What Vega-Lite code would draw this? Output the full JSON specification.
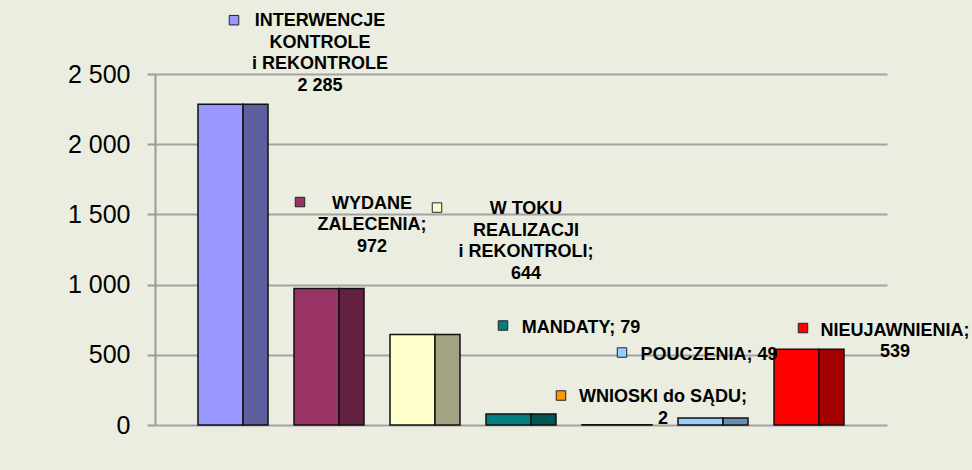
{
  "$schema": "https://vega.github.io/schema/vega-lite/v6.json",
  "width": 732,
  "height": 351,
  "autosize": "none",
  "padding": {"left": 155, "right": 85, "top": 74, "bottom": 45},
  "background": "#eaeddf",
  "config": {"view": {"stroke": null}},
  "data": {"values": [
    {"category": "INTERWENCJE", "value": 2285, "label": "INTERWENCJE\nKONTROLE\ni REKONTROLE\n2 285"},
    {"category": "WYDANE ZALECENIA", "value": 972, "label": "WYDANE\nZALECENIA;\n972"},
    {"category": "W TOKU REALIZACJI", "value": 644, "label": "W TOKU\nREALIZACJI\ni REKONTROLI;\n644"},
    {"category": "MANDATY", "value": 79, "label": "MANDATY; 79"},
    {"category": "WNIOSKI do SĄDU", "value": 2, "label": "WNIOSKI do SĄDU;\n2"},
    {"category": "POUCZENIA", "value": 49, "label": "POUCZENIA; 49"},
    {"category": "NIEUJAWNIENIA", "value": 539, "label": "NIEUJAWNIENIA;\n539"}
  ]},
  "encoding": {
    "x": {"field": "category", "type": "nominal", "sort": null,
      "scale": {"domain": ["INTERWENCJE", "WYDANE ZALECENIA", "W TOKU REALIZACJI", "MANDATY", "WNIOSKI do SĄDU", "POUCZENIA", "NIEUJAWNIENIA"], "paddingInner": 0, "paddingOuter": 0.3125},
      "axis": null},
    "y": {"field": "value", "type": "quantitative",
      "scale": {"domain": [0, 2500], "nice": false}}
  },
  "layer": [
    {
      "mark": {"type": "bar", "width": 45, "xOffset": -12.5, "stroke": "#111", "strokeWidth": 1.5},
      "encoding": {
        "y": {"field": "value", "type": "quantitative",
          "scale": {"domain": [0, 2500], "nice": false},
          "axis": {"values": [0, 500, 1000, 1500, 2000, 2500], "title": null,
            "labelExpr": "replace(format(datum.value, ',d'), ',', ' ')",
            "labelFont": "Liberation Sans", "labelFontSize": 25, "labelColor": "#000",
            "labelPadding": 17, "domainColor": "#9a9a9a", "domainWidth": 2,
            "tickColor": "#9a9a9a", "tickWidth": 2, "tickSize": 8,
            "grid": true, "gridColor": "#a3a3a3", "gridWidth": 2}},
        "color": {"field": "category", "type": "nominal", "legend": null,
          "scale": {"domain": ["INTERWENCJE", "WYDANE ZALECENIA", "W TOKU REALIZACJI", "MANDATY", "WNIOSKI do SĄDU", "POUCZENIA", "NIEUJAWNIENIA"],
            "range": ["#9999ff", "#993366", "#ffffcc", "#008080", "#ff9900", "#99ccff", "#ff0000"]}}
      }
    },
    {
      "mark": {"type": "bar", "width": 25, "xOffset": 22.5, "stroke": "#111", "strokeWidth": 1.5},
      "encoding": {
        "fill": {"field": "category", "type": "nominal", "legend": null,
          "scale": {"domain": ["INTERWENCJE", "WYDANE ZALECENIA", "W TOKU REALIZACJI", "MANDATY", "WNIOSKI do SĄDU", "POUCZENIA", "NIEUJAWNIENIA"],
            "range": ["#5f5fa0", "#632040", "#a3a383", "#005555", "#b36b00", "#6690b3", "#a30000"]}}
      }
    },
    {
      "transform": [{"filter": "datum.category === 'INTERWENCJE'"}],
      "layer": [
        {"mark": {"type": "text", "font": "Liberation Sans", "fontSize": 18, "fontWeight": "bold", "align": "center", "baseline": "top", "lineBreak": "\n", "lineHeight": 21.5, "dx": 87, "dy": -92, "color": "#000"},
         "encoding": {"text": {"field": "label", "type": "nominal"}}},
        {"mark": {"type": "point", "shape": "square", "filled": true, "opacity": 1, "size": 90, "stroke": "#222", "strokeWidth": 1, "xOffset": 1, "yOffset": -84},
         "encoding": {"color": {"field": "category", "type": "nominal", "legend": null}}}
      ]
    },
    {
      "transform": [{"filter": "datum.category === 'WYDANE ZALECENIA'"}],
      "layer": [
        {"mark": {"type": "text", "font": "Liberation Sans", "fontSize": 18, "fontWeight": "bold", "align": "center", "baseline": "top", "lineBreak": "\n", "lineHeight": 21.5, "dx": 43, "dy": -94, "color": "#000"},
         "encoding": {"text": {"field": "label", "type": "nominal"}}},
        {"mark": {"type": "point", "shape": "square", "filled": true, "opacity": 1, "size": 90, "stroke": "#222", "strokeWidth": 1, "xOffset": -29, "yOffset": -86.5},
         "encoding": {"color": {"field": "category", "type": "nominal", "legend": null}}}
      ]
    },
    {
      "transform": [{"filter": "datum.category === 'W TOKU REALIZACJI'"}],
      "layer": [
        {"mark": {"type": "text", "font": "Liberation Sans", "fontSize": 18, "fontWeight": "bold", "align": "center", "baseline": "top", "lineBreak": "\n", "lineHeight": 21.5, "dx": 101, "dy": -134.4, "color": "#000"},
         "encoding": {"text": {"field": "label", "type": "nominal"}}},
        {"mark": {"type": "point", "shape": "square", "filled": true, "opacity": 1, "size": 90, "stroke": "#222", "strokeWidth": 1, "xOffset": 12, "yOffset": -127},
         "encoding": {"color": {"field": "category", "type": "nominal", "legend": null}}}
      ]
    },
    {
      "transform": [{"filter": "datum.category === 'MANDATY'"}],
      "layer": [
        {"mark": {"type": "text", "font": "Liberation Sans", "fontSize": 18, "fontWeight": "bold", "align": "center", "baseline": "top", "lineBreak": "\n", "lineHeight": 21.5, "dx": 60, "dy": -95, "color": "#000"},
         "encoding": {"text": {"field": "label", "type": "nominal"}}},
        {"mark": {"type": "point", "shape": "square", "filled": true, "opacity": 1, "size": 90, "stroke": "#222", "strokeWidth": 1, "xOffset": -18, "yOffset": -88.4},
         "encoding": {"color": {"field": "category", "type": "nominal", "legend": null}}}
      ]
    },
    {
      "transform": [{"filter": "datum.category === 'WNIOSKI do SĄDU'"}],
      "layer": [
        {"mark": {"type": "text", "font": "Liberation Sans", "fontSize": 18, "fontWeight": "bold", "align": "center", "baseline": "top", "lineBreak": "\n", "lineHeight": 22, "dx": 46, "dy": -36.7, "color": "#000"},
         "encoding": {"text": {"field": "label", "type": "nominal"}}},
        {"mark": {"type": "point", "shape": "square", "filled": true, "opacity": 1, "size": 90, "stroke": "#222", "strokeWidth": 1, "xOffset": -56, "yOffset": -29.2},
         "encoding": {"color": {"field": "category", "type": "nominal", "legend": null}}}
      ]
    },
    {
      "transform": [{"filter": "datum.category === 'POUCZENIA'"}],
      "layer": [
        {"mark": {"type": "text", "font": "Liberation Sans", "fontSize": 18, "fontWeight": "bold", "align": "center", "baseline": "top", "lineBreak": "\n", "lineHeight": 21.5, "dx": -4, "dy": -71.9, "color": "#000"},
         "encoding": {"text": {"field": "label", "type": "nominal"}}},
        {"mark": {"type": "point", "shape": "square", "filled": true, "opacity": 1, "size": 90, "stroke": "#222", "strokeWidth": 1, "xOffset": -91, "yOffset": -65.6},
         "encoding": {"color": {"field": "category", "type": "nominal", "legend": null}}}
      ]
    },
    {
      "transform": [{"filter": "datum.category === 'NIEUJAWNIENIA'"}],
      "layer": [
        {"mark": {"type": "text", "font": "Liberation Sans", "fontSize": 18, "fontWeight": "bold", "align": "center", "baseline": "top", "lineBreak": "\n", "lineHeight": 21, "dx": 86, "dy": -27.1, "color": "#000"},
         "encoding": {"text": {"field": "label", "type": "nominal"}}},
        {"mark": {"type": "point", "shape": "square", "filled": true, "opacity": 1, "size": 90, "stroke": "#222", "strokeWidth": 1, "xOffset": -6, "yOffset": -21.3},
         "encoding": {"color": {"field": "category", "type": "nominal", "legend": null}}}
      ]
    }
  ]
}
